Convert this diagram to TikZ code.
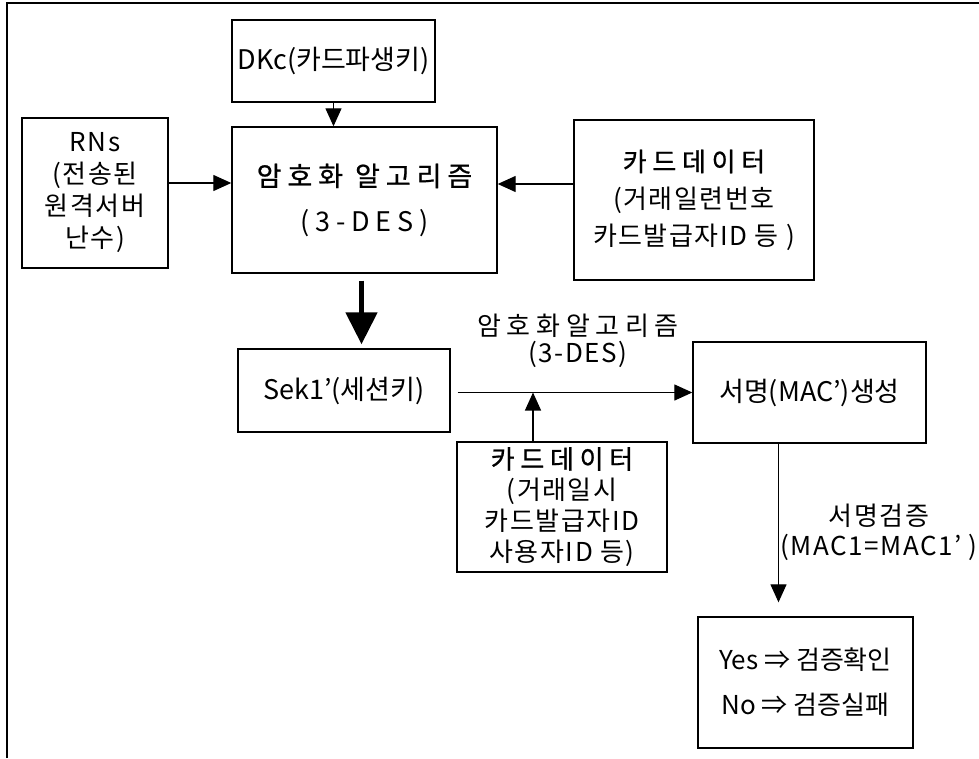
\documentclass[tikz,border=0pt]{standalone}
\usepackage{fontspec}
\setmainfont[LetterSpace=6]{Noto Sans CJK KR}
\newfontfamily\plainfont{Noto Sans CJK KR}
\newfontfamily\widefont[LetterSpace=22]{Noto Sans CJK KR}
\newfontfamily\headfont[LetterSpace=22, FakeBold=0.8]{Noto Sans CJK KR}
\usetikzlibrary{arrows.meta}

\begin{document}
\begin{tikzpicture}[x=1pt, y=-1pt,
    box/.style={draw, line width=1.4pt, align=center, inner sep=0pt,
                font=\fontsize{26}{32}\selectfont},
    txt/.style={align=center, inner sep=0pt, font=\fontsize{26}{30}\selectfont},
    link/.style={line width=1.3pt, -{Triangle[length=18pt, width=16pt]}}]
  \useasboundingbox (0,0) rectangle (979,758);
  % frame (only top and left edges show)
  \draw[line width=2pt] (7,758) -- (7,3) -- (979,3);

  % key generation
  \node[box, minimum width=203pt, minimum height=82pt,
        font=\plainfont\fontsize{27}{32}\selectfont] (dkc) at (333.5,61) {DKc(카드파생키)};
  \node[box, minimum width=265pt, minimum height=146pt,
        font=\widefont\fontsize{27}{45}\selectfont] (algo) at (364.5,200)
        {{\headfont 암호화 알고리즘}\\(3-DES)};
  \node[box, minimum width=146pt, minimum height=150pt] (rns) at (95,193)
        {RNs\\(전송된\\원격서버\\난수)};
  \node[box, minimum width=240pt, minimum height=160pt,
        font=\fontsize{26}{37}\selectfont] (card1) at (694,200)
        {{\headfont 카드데이터}\\(거래일련번호\\카드발급자ID 등 )};

  % session key and signature
  \node[box, minimum width=212pt, minimum height=83pt,
        font=\plainfont\fontsize{27}{32}\selectfont] (sek) at (344,390.5) {Sek1’(세션키)};
  \node[box, minimum width=233pt, minimum height=101pt,
        font=\plainfont\fontsize{27}{32}\selectfont] (mac) at (809.5,392.5) {서명(MAC’)생성};
  \node[box, minimum width=210pt, minimum height=130pt,
        font=\fontsize{26}{31}\selectfont] (card2) at (562,507)
        {{\headfont 카드데이터}\\(거래일시\\카드발급자ID\\사용자ID 등)};
  \node[box, minimum width=215pt, minimum height=131pt,
        font=\plainfont\fontsize{26}{45}\selectfont] (result) at (805.5,682.5)
        {Yes ⇒ 검증확인\\No ⇒ 검증실패};

  \node[txt, font=\fontsize{26}{27}\selectfont] (cipher) at (578,341)
        {{\widefont 암호화알고리즘}\\(3-DES)};
  \node[txt] (verify) at (879,532) {서명검증\\(MAC1=MAC1’ )};
  \coordinate (join) at (533,392.5);

  % connectors
  \draw[link] (dkc.south) -- (dkc.south |- algo.north);
  \draw[link] ([yshift=10pt]rns.east) -- ([yshift=10pt]rns.east -| algo.west);
  \draw[link] ([yshift=16pt]card1.west) -- ([yshift=16pt]card1.west -| algo.east);
  \draw[line width=5pt, -{Triangle[length=32pt, width=31pt]}, shorten <=7pt, shorten >=4pt]
    ([xshift=-3pt]algo.south) -- ([xshift=-3pt]algo.south |- sek.north);
  \draw[link, shorten <=7pt] ([yshift=-2pt]sek.east) -- ([yshift=-2pt]sek.east -| mac.west);
  \draw[link] (join |- card2.north) -- (join);
  \draw[link, shorten >=14pt] ([xshift=-31pt]mac.south) -- ([xshift=-31pt]mac.south |- result.north);
\end{tikzpicture}
\end{document}
